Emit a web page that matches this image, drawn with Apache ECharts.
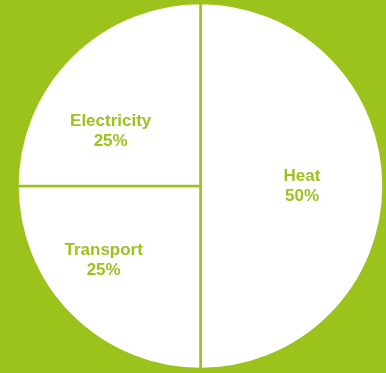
<!DOCTYPE html>
<html><head><meta charset="utf-8">
<script src="https://cdn.jsdelivr.net/npm/echarts@6/dist/echarts.min.js"></script>
<style>html,body{margin:0;padding:0;background:#9bc31c;}#c{width:386px;height:373px;}</style>
</head><body><div id="c"></div>
<script>
var categories = ['Heat', 'Transport', 'Electricity'];
var values = [50, 25, 25];
var labelOffsets = [[7, 0], [-30, 7], [-23, 12]];
var green = '#9bc31c';
var chart = echarts.init(document.getElementById('c'), null, {renderer: 'canvas'});
chart.setOption({
  backgroundColor: green,
  animation: false,
  series: [{
    type: 'pie',
    center: [200.5, 186],
    radius: [0, 183],
    startAngle: 90,
    clockwise: true,
    itemStyle: {color: '#ffffff', borderColor: green, borderWidth: 2.5},
    label: {
      position: 'inside',
      color: green,
      fontFamily: 'Liberation Sans, Arial, sans-serif',
      fontWeight: 'bold',
      fontSize: 17,
      lineHeight: 20,
      formatter: function (p) { return p.name + '\n' + p.value + '%'; }
    },
    labelLine: {show: false},
    emphasis: {disabled: true},
    data: categories.map(function (n, i) {
      return {name: n, value: values[i], label: {offset: labelOffsets[i]}};
    })
  }]
});
</script></body></html>
